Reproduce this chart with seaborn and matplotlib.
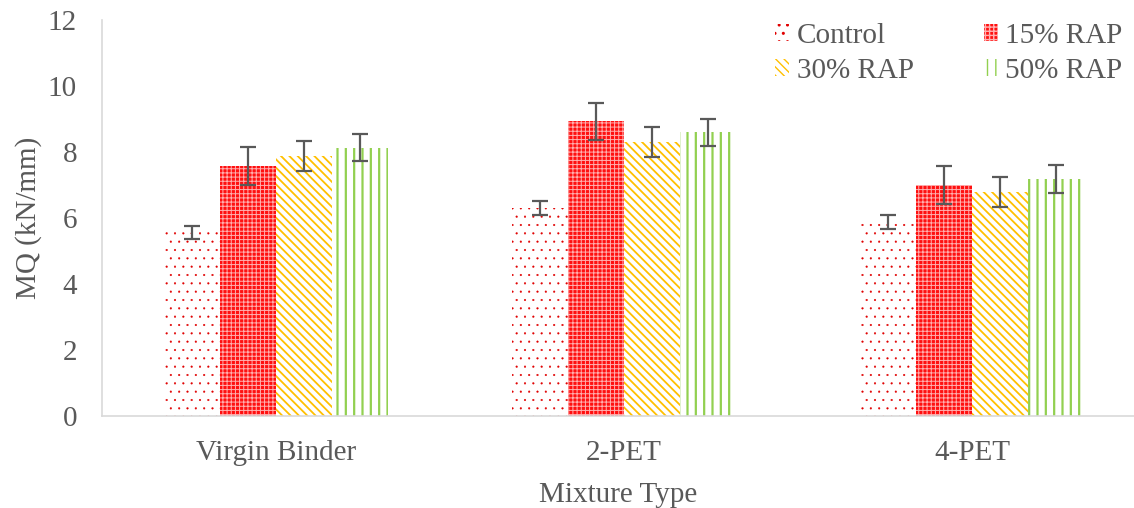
import matplotlib
matplotlib.use("Agg")
import matplotlib.pyplot as plt
import seaborn as sns
import pandas as pd

# MQ values (kN/mm) per mixture type and RAP content
mixtures = ["Virgin Binder", "2-PET", "4-PET"]
rap_levels = ["Control", "15% RAP", "30% RAP", "50% RAP"]
control = [5.57, 6.30, 5.88]
rap15 = [7.57, 8.93, 6.99]
rap30 = [7.87, 8.31, 6.78]
rap50 = [8.13, 8.60, 7.18]
control_err = [0.20, 0.21, 0.20]
rap15_err = [0.58, 0.57, 0.58]
rap30_err = [0.45, 0.46, 0.46]
rap50_err = [0.41, 0.41, 0.42]
y_ticks = [0, 2, 4, 6, 8, 10, 12]

values = [control, rap15, rap30, rap50]
errors = [control_err, rap15_err, rap30_err, rap50_err]

rows = []
for level, vals in zip(rap_levels, values):
    for mix, v in zip(mixtures, vals):
        rows.append({"Mixture Type": mix, "RAP": level, "MQ": v})
df = pd.DataFrame(rows)

sns.set_theme(style="white")
plt.rcParams["font.family"] = ["Liberation Serif", "DejaVu Serif"]
plt.rcParams["hatch.linewidth"] = 1.0

text_color = "#595959"
axis_color = "#D9D9D9"
backslash = chr(92)

# face colour, hatch colour, hatch pattern, hatch line width
styles = {
    "Control": ("white", "#E00000", "..", 0.3),
    "15% RAP": ("#FF1010", "#FFB0B0", "++++", 0.7),
    "30% RAP": ("white", "#FFC000", backslash * 4, 1.3),
    "50% RAP": ("white", "#92D050", "||", 1.6),
}

fig = plt.figure(figsize=(11.34, 5.08), dpi=100)
W, H = 1134, 508
ax = fig.add_axes([102 / W, 92 / H, 1032 / W, 396 / H])

sns.barplot(
    data=df, x="Mixture Type", y="MQ", hue="RAP",
    order=mixtures, hue_order=rap_levels,
    palette=[styles[k][0] for k in rap_levels],
    width=0.644, gap=0, errorbar=None, legend=False, ax=ax,
)

for level, cont, errs, vals in zip(rap_levels, ax.containers, errors, values):
    face, hcol, hatch, hlw = styles[level]
    for p in cont.patches:
        p.set_facecolor(face)
        p.set_edgecolor(hcol)
        p.set_linewidth(0)
        p.set_hatch(hatch)
        if hasattr(p, "set_hatch_linewidth"):
            p.set_hatch_linewidth(hlw)
    xs = [p.get_x() + p.get_width() / 2 for p in cont.patches]
    ax.errorbar(xs, vals, yerr=errs, fmt="none", ecolor="#595959",
                elinewidth=1.6, capsize=6, capthick=1.6, zorder=5)

ax.set_ylim(0, 12)
ax.set_yticks(y_ticks)
ax.set_xlim(-0.5, 2.5 - 12 / 348)

for side in ["top", "right"]:
    ax.spines[side].set_visible(False)
for side in ["left", "bottom"]:
    ax.spines[side].set_color(axis_color)
    ax.spines[side].set_linewidth(1.2)

ax.tick_params(axis="y", length=0, pad=18, labelsize=21, labelcolor=text_color)
ax.tick_params(axis="x", length=0, pad=17, labelsize=21, labelcolor=text_color)
ax.set_xlabel("Mixture Type", fontsize=21, color=text_color, labelpad=12)
ax.set_ylabel("MQ (kN/mm)", fontsize=21, color=text_color, labelpad=4)

# legend laid out row by row: Control, 15% RAP / 30% RAP, 50% RAP
order = [0, 2, 1, 3]
leg = ax.legend(
    [ax.containers[i] for i in order], [rap_levels[i] for i in order],
    ncol=2, loc="upper right",
    bbox_to_anchor=(1.006, 1.037), frameon=False, fontsize=21,
    handlelength=0.5, handleheight=0.5, handletextpad=0.25,
    columnspacing=2.4, labelspacing=0.3, borderaxespad=0.2,
)
for t in leg.get_texts():
    t.set_color(text_color)

fig.savefig("out.png", dpi=100)
